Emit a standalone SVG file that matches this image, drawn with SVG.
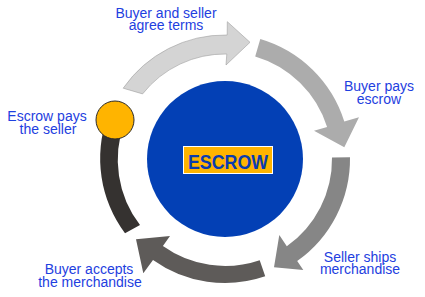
<svg xmlns="http://www.w3.org/2000/svg" width="425" height="297" viewBox="0 0 425 297">
<style>
.lbl{font-family:"Liberation Sans",Arial,sans-serif;font-size:14px;fill:#1e40e0;text-anchor:middle}
.ttl{font-family:"Liberation Sans",Arial,sans-serif;font-size:20px;font-weight:bold;fill:#0a3cb0;text-anchor:middle}
</style>
<rect width="425" height="297" fill="#ffffff"/>
<g id="connectors">
<path id="arrow-agree" d="M 123.2 88.2 A 124 124 0 0 1 227.2 35.0 L 227.3 21.7 L 250 42.3 L 226 65 L 226.8 54.0 A 105 105 0 0 0 142.6 93.9 Z" fill="#d4d4d4" stroke="#a0a0a0" stroke-width="0.6"/>
<path id="arrow-pay" d="M 260.3 39.1 A 125 125 0 0 1 344.3 121.6 L 359 117.3 L 344.3 147.3 L 314 130.7 L 327.1 127.0 A 107 107 0 0 0 255.2 56.4 Z" fill="#acacac"/>
<path id="arrow-ship" d="M 350 157.3 A 125 125 0 0 1 297.2 261.0 L 303.3 270 L 274 267.3 L 279.3 235 L 286.8 246.3 A 107 107 0 0 0 332 157.5 Z" fill="#868686"/>
<path id="arrow-accept" d="M 265.2 276.3 A 124 124 0 0 1 153.0 259.9 L 143.3 273.3 L 136 239.3 L 170 236 L 162.9 246.1 A 107 107 0 0 0 259.7 260.2 Z" fill="#5e5b59"/>
<path id="arc-release" d="M 125 233.3 A 125 125 0 0 1 107.5 116.3 L 124.5 122.4 A 107 107 0 0 0 140 225 Z" fill="#353230"/>
</g>
<g id="escrow-center">
<circle cx="225" cy="159" r="78" fill="#0340b5"/>
<rect x="183.5" y="146.5" width="89" height="27" fill="#ffb400" stroke="#ffffff" stroke-width="1"/>
<text class="ttl" x="228" y="168.5" textLength="80" lengthAdjust="spacingAndGlyphs">ESCROW</text>
</g>
<g id="node-pays-seller">
<circle cx="115" cy="120" r="19" fill="#ffb400" stroke="#2a2a2a" stroke-width="1"/>
</g>
<g id="label-agree">
<text class="lbl" x="166" y="17.5">Buyer and seller</text>
<text class="lbl" x="166" y="30">agree terms</text>
</g>
<g id="label-pays-escrow">
<text class="lbl" x="379" y="90.7">Buyer pays</text>
<text class="lbl" x="379" y="103.5">escrow</text>
</g>
<g id="label-ships">
<text class="lbl" x="360" y="261.7">Seller ships</text>
<text class="lbl" x="360" y="274.3">merchandise</text>
</g>
<g id="label-accepts">
<text class="lbl" x="89" y="274">Buyer accepts</text>
<text class="lbl" x="90" y="286.7">the merchandise</text>
</g>
<g id="label-pays-seller">
<text class="lbl" x="47" y="121">Escrow pays</text>
<text class="lbl" x="48" y="134.3">the seller</text>
</g>
</svg>
